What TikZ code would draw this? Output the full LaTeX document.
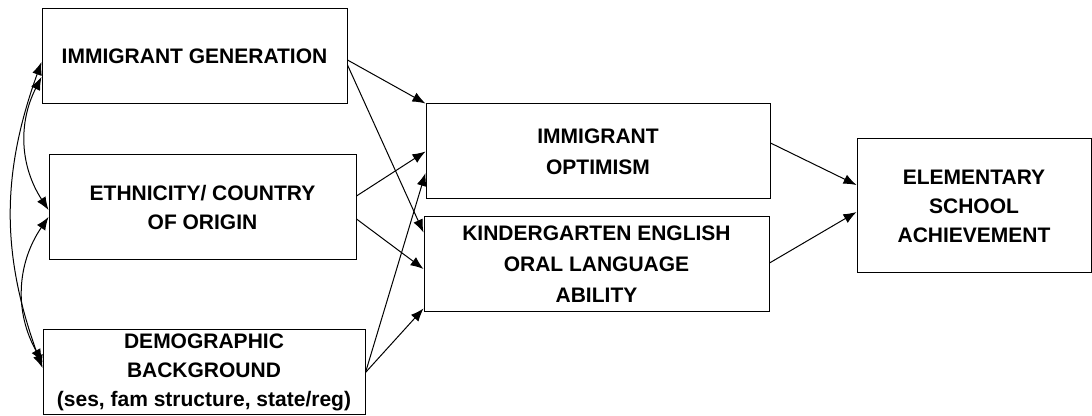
\documentclass[tikz,border=0pt]{standalone}
\usepackage{fontspec}
\setmainfont{Liberation Sans}
\usepackage{tikz}
\usetikzlibrary{arrows.meta}

\begin{document}
\begin{tikzpicture}
[x=0.5pt,y=-0.5pt,->,>={Latex[length=6.5pt,width=5pt]},line width=0.5pt,
  box/.style={draw,line width=0.5pt,align=center,inner sep=0pt,
    font=\fontsize{10.5}{14.5}\selectfont\bfseries}]
  \useasboundingbox (0,0) rectangle (1092,416);

  \node[box,minimum width=152.5pt,minimum height=47.5pt] (gen) at (194.5,56.5) {IMMIGRANT GENERATION};
  \node[box,minimum width=153.5pt,minimum height=52.5pt] (eth) at (202.5,207.5) {ETHNICITY/ COUNTRY\\OF ORIGIN};
  \node[box,minimum width=161pt,minimum height=42.5pt] (demo) at (204,372.5) {DEMOGRAPHIC\\BACKGROUND\\(ses, fam structure, state/reg)};

  \node[box,minimum width=172pt,minimum height=47.5pt,font=\fontsize{10.5}{15.5}\selectfont\bfseries] (opt) at (598,151.5) {IMMIGRANT\\OPTIMISM};
  \node[box,minimum width=172.5pt,minimum height=47.5pt,font=\fontsize{10.5}{15.5}\selectfont\bfseries] (kind) at (596.5,264.5) {KINDERGARTEN ENGLISH\\ORAL LANGUAGE\\ABILITY};

  \node[box,minimum width=117pt,minimum height=67pt] (elem) at (974,206) {ELEMENTARY\\SCHOOL\\ACHIEVEMENT};

%   paths into the two middle boxes
  \draw ([yshift=-1.75pt]gen.east) -- (opt.north west);
  \draw ([yshift=-4.25pt]gen.east) -- ([yshift=-8pt]kind.north west);
  \draw ([yshift=5.75pt]eth.east) -- (opt.west);
  \draw ([yshift=-5.75pt]eth.east) -- ([yshift=-2.25pt]kind.west);
  \draw (demo.east) -- ([yshift=-10.75pt]opt.west);
  \draw (demo.east) -- ([yshift=2pt]kind.south west);

  \draw ([yshift=4.25pt]opt.east) -- ([yshift=10.5pt]elem.west);
  \draw ([yshift=0.75pt]kind.east) -- ([yshift=-3pt]elem.west);

%   correlations on the left
  \draw[<->] ([yshift=-10.25pt]gen.west) to[bend right=30] ([yshift=-1.25pt]eth.west);
  \draw[<->] ([yshift=-4.75pt]eth.west) to[bend right=32] ([yshift=5.25pt]demo.west);
  \draw[<->] ([yshift=-2.75pt]gen.west) to[bend right=20] ([yshift=2.25pt]demo.west);

\end{tikzpicture}
\end{document}
